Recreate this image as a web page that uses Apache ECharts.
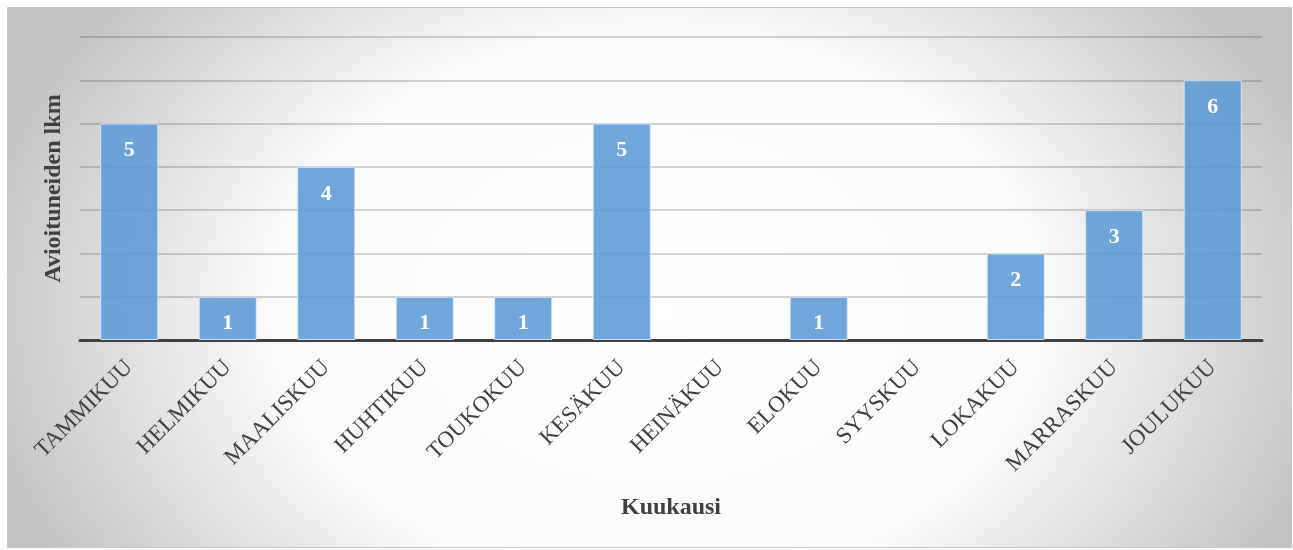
<!DOCTYPE html>
<html>
<head>
<meta charset="utf-8">
<script src="https://cdn.jsdelivr.net/npm/echarts@6/dist/echarts.min.js"></script>
<style>
  html, body { margin: 0; padding: 0; background: #fff; }
  #chart { width: 1293px; height: 550px; }
</style>
</head>
<body>
<div id="chart"></div>
<script>
// kuukaudet ja arvot
const months = ['TAMMIKUU', 'HELMIKUU', 'MAALISKUU', 'HUHTIKUU', 'TOUKOKUU', 'KESÄKUU',
  'HEINÄKUU', 'ELOKUU', 'SYYSKUU', 'LOKAKUU', 'MARRASKUU', 'JOULUKUU'];
const marriages = [5, 1, 4, 1, 1, 5, null, 1, null, 2, 3, 6];
const yMax = 7;

const serif = '"Liberation Serif", "DejaVu Serif", serif';
const chart = echarts.init(document.getElementById('chart'));

// taustan ellipsinmuotoinen liukuväri: venytetty suorakulmio
const bgW = 1284, bgH = 540, stretchH = 756;

chart.setOption({
  animation: false,
  graphic: [{
    type: 'rect',
    z: -10,
    silent: true,
    x: 7.5, y: 7.5,
    scaleY: bgH / stretchH,
    shape: { x: 0, y: 0, width: bgW, height: stretchH },
    style: {
      fill: {
        type: 'radial', x: 0.506, y: 0.555, r: 0.926,
        colorStops: [
          { offset: 0, color: '#ffffff' },
          { offset: 0.55, color: '#fbfbfb' },
          { offset: 1, color: '#c2c2c2' }
        ]
      }
    }
  }, {
    type: 'rect',
    z: -9,
    silent: true,
    shape: { x: 7.5, y: 7.5, width: bgW, height: bgH },
    style: { fill: 'none', stroke: '#c8c8c8', lineWidth: 1 }
  }],
  grid: { left: 80, right: 31, top: 37, bottom: 210 },
  xAxis: {
    type: 'category',
    data: months,
    name: 'Kuukausi',
    nameLocation: 'middle',
    nameGap: 156,
    nameTextStyle: { fontFamily: serif, fontWeight: 'bold', fontSize: 24, color: '#404040' },
    axisLine: { lineStyle: { color: '#404040', width: 3 } },
    axisTick: { show: false },
    axisLabel: {
      interval: 0, rotate: 45, margin: 24,
      fontFamily: serif, fontSize: 23, color: '#404040'
    }
  },
  yAxis: {
    type: 'value',
    min: 0, max: yMax, interval: 1,
    name: 'Avioituneiden lkm',
    nameLocation: 'middle',
    nameGap: 14,
    nameTextStyle: { fontFamily: serif, fontWeight: 'bold', fontSize: 24, color: '#404040' },
    axisLabel: { show: false },
    axisLine: { show: false },
    axisTick: { show: false },
    splitLine: { lineStyle: { color: 'rgba(0, 0, 0, 0.22)', width: 1.5 } }
  },
  series: [{
    type: 'bar',
    data: marriages,
    barWidth: '59%',
    itemStyle: {
      color: 'rgba(91, 155, 213, 0.88)',
      borderColor: 'rgba(220, 235, 250, 0.9)',
      borderWidth: 1
    },
    label: {
      show: true,
      position: 'insideTop',
      distance: 16,
      fontFamily: serif, fontWeight: 'bold', fontSize: 22, color: '#ffffff'
    }
  }]
});
</script>
</body>
</html>
